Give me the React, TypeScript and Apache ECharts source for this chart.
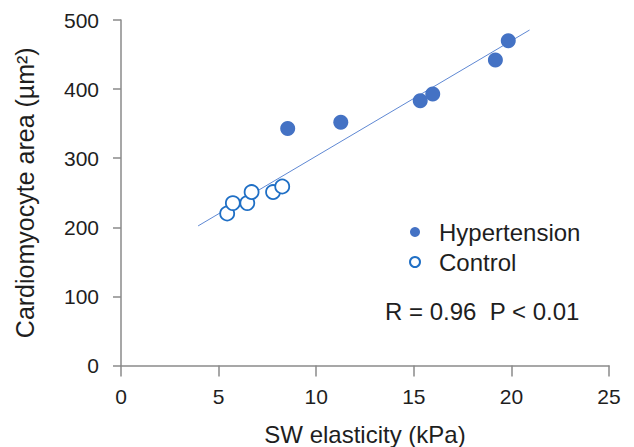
import React, { useEffect, useRef } from "react";
import * as echarts from "echarts";

const hypertensionX = [8.54, 11.26, 15.33, 15.97, 19.18, 19.84];
const hypertensionY = [343, 352, 383, 393, 442, 470];
const controlX = [5.44, 5.73, 6.47, 6.69, 7.79, 8.26];
const controlY = [220, 235, 235, 251, 251, 259];
const trendX = [3.95, 20.93];
const trendY = [202, 485.5];
const statText = "R = 0.96  P < 0.01";

const FONT = "Liberation Sans, Arial, sans-serif";

export default function App() {
  const ref = useRef<HTMLDivElement>(null);
  useEffect(() => {
    if (!ref.current) return;
    const chart = echarts.init(ref.current, undefined, { renderer: "svg" });
    const axisColor = "#8a8a8a";
    const labelColor = "#1e1e1e";
    chart.setOption({
      animation: false,
      backgroundColor: "#ffffff",
      textStyle: { fontFamily: FONT },
      grid: { left: 121, right: 25, top: 20, bottom: 81.5, outerBoundsMode: "none", containLabel: false },
      xAxis: {
        type: "value",
        min: 0,
        max: 25,
        interval: 5,
        name: "SW elasticity (kPa)",
        nameLocation: "middle",
        nameGap: 57,
        nameTextStyle: { fontSize: 24, color: labelColor, fontFamily: FONT },
        axisLine: { show: true, onZero: false, lineStyle: { color: axisColor, width: 1.5 } },
        axisTick: { show: true, inside: false, length: 11, lineStyle: { color: axisColor, width: 1.5 } },
        axisLabel: { fontSize: 21, color: labelColor, margin: 20, fontFamily: FONT },
        splitLine: { show: false },
      },
      yAxis: {
        type: "value",
        min: 0,
        max: 500,
        interval: 100,
        name: "Cardiomyocyte area (µm²)",
        nameLocation: "middle",
        nameGap: 84,
        nameTextStyle: { fontSize: 25, color: labelColor, fontFamily: FONT },
        axisLine: { show: true, onZero: false, lineStyle: { color: axisColor, width: 1.5 } },
        axisTick: { show: true, length: 8, lineStyle: { color: axisColor, width: 1.5 } },
        axisLabel: { fontSize: 21, color: labelColor, margin: 22, fontFamily: FONT },
        splitLine: { show: false },
      },
      legend: {
        orient: "vertical",
        left: 404,
        top: 215,
        itemWidth: 10,
        itemHeight: 10,
        itemGap: 6,
        textStyle: { fontSize: 24, color: labelColor, fontFamily: FONT, padding: [0, 0, 0, 14] },
        data: [
          { name: "Hypertension", icon: "circle" },
          { name: "Control", icon: "circle" },
        ],
      },
      graphic: [
        {
          type: "text",
          left: 385,
          top: 299,
          style: { text: statText, fontSize: 24, fill: labelColor, fontFamily: FONT },
        },
      ],
      series: [
        {
          name: "Trend",
          type: "line",
          data: trendX.map((x, i) => [x, trendY[i]]),
          showSymbol: false,
          symbol: "none",
          lineStyle: { color: "#5f88d3", width: 1 },
          z: 1,
        },
        {
          name: "Hypertension",
          type: "scatter",
          data: hypertensionX.map((x, i) => [x, hypertensionY[i]]),
          symbolSize: 15,
          itemStyle: { color: "#4472c4", opacity: 1 },
          z: 3,
        },
        {
          name: "Control",
          type: "scatter",
          data: controlX.map((x, i) => [x, controlY[i]]),
          symbolSize: 14,
          itemStyle: { color: "#ffffff", borderColor: "#1f6fc5", borderWidth: 1.8, opacity: 1 },
          z: 2,
        },
      ],
    });
    return () => chart.dispose();
  }, []);
  return <div ref={ref} style={{ width: 634, height: 447, position: "absolute", left: 0, top: 0 }} />;
}
